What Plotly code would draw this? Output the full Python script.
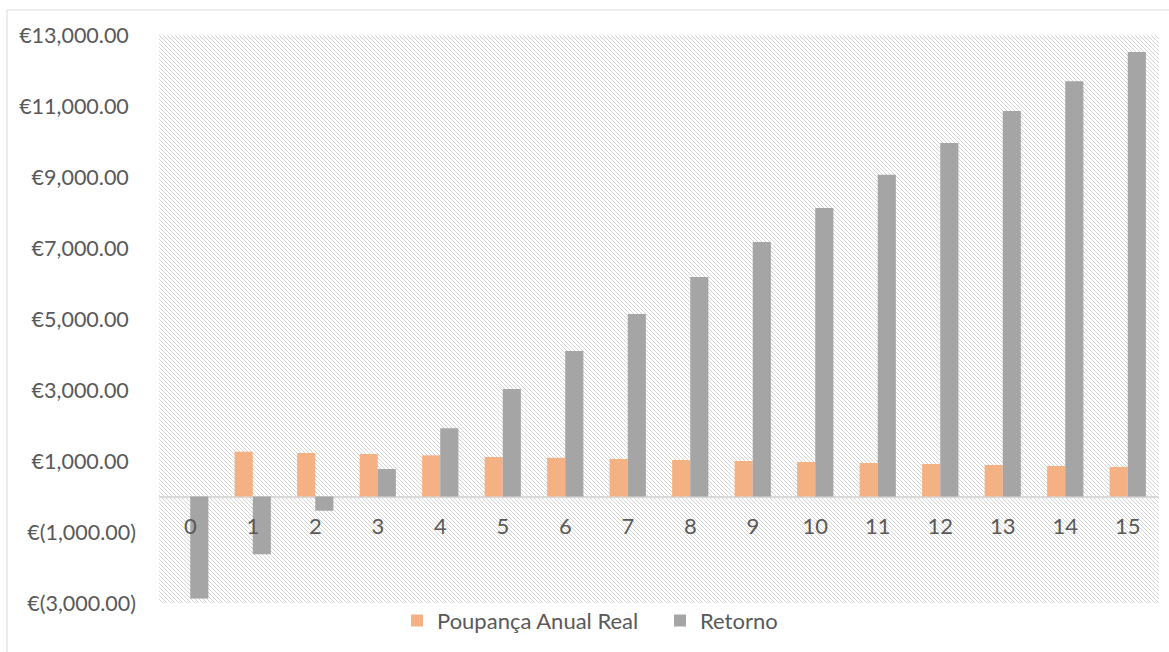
import base64
import plotly.graph_objects as go

# Years and the two series shown per year
anos = [str(i) for i in range(16)]
poupanca_anual_real = [0, 1262, 1225, 1197, 1160, 1113, 1090, 1056, 1028, 1000,
                       972, 944, 915, 887, 859, 831]
retorno = [-2870, -1630, -400, 775, 1920, 3030, 4100, 5140, 6180, 7170,
           8130, 9060, 9960, 10860, 11700, 12520]

y_ticks = [-3000, -1000, 1000, 3000, 5000, 7000, 9000, 11000, 13000]


def euro(v):
    # accounting style: negatives in brackets, positives padded by a bracket-wide space
    return f"€({abs(v):,.2f})" if v < 0 else f"€{v:,.2f}\u2004"


y_ticktext = [euro(v) for v in y_ticks]

FONT = "Lato, 'Open Sans', sans-serif"
TXT = "#595959"

fig = go.Figure()
fig.add_trace(go.Bar(x=anos, y=poupanca_anual_real, name="Poupança Anual Real",
                     marker=dict(color="#F4B183", line=dict(width=0))))
fig.add_trace(go.Bar(x=anos, y=retorno, name="Retorno",
                     marker=dict(color="#A5A5A5", line=dict(width=0))))

# diagonal hatch filling the plotting area
hatch_svg = (
    "<svg xmlns='http://www.w3.org/2000/svg' width='1000' height='568' viewBox='0 0 1000 568'>"
    "<defs><pattern id='h' patternUnits='userSpaceOnUse' width='4' height='4'>"
    "<path d='M-1,-1 L5,5 M-1,3 L1,5 M3,-1 L5,1' stroke='#d4d4d4' stroke-width='1'/>"
    "</pattern></defs><rect width='1000' height='568' fill='white'/>"
    "<rect width='1000' height='568' fill='url(#h)'/></svg>"
)
hatch_uri = "data:image/svg+xml;base64," + base64.b64encode(hatch_svg.encode()).decode()

zero_pos = 3000 / 16000

fig.update_layout(
    width=1169, height=652,
    margin=dict(l=159, r=10, t=35, b=49, autoexpand=False),
    paper_bgcolor="white", plot_bgcolor="rgba(0,0,0,0)",
    barmode="group", bargap=0.42, bargroupgap=0,
    font=dict(family=FONT, size=22, color=TXT),
    showlegend=True,
    legend=dict(orientation="h", x=0.238, xanchor="left", y=0.006, yanchor="top",
                bgcolor="rgba(0,0,0,0)",
                font=dict(family=FONT, size=22, color=TXT), itemwidth=30,
                entrywidth=218, traceorder="normal"),
    xaxis=dict(type="category", anchor="free", position=zero_pos,
               showline=False, showgrid=False, zeroline=False, ticks="",
               tickfont=dict(family=FONT, size=22, color=TXT),
               ticklabelstandoff=14),
    yaxis=dict(range=[-3000, 13000], tickvals=y_ticks, ticktext=y_ticktext,
               showgrid=False, zeroline=True, zerolinecolor="#d9d9d9",
               zerolinewidth=2, showline=False, ticks="",
               tickfont=dict(family=FONT, size=21.5, color=TXT),
               ticklabelstandoff=22),
    images=[dict(source=hatch_uri, xref="paper", yref="paper", x=0, y=1,
                 sizex=1, sizey=1, sizing="stretch", xanchor="left", yanchor="top",
                 layer="below")],
    shapes=[dict(type="rect", xref="paper", yref="paper",
                 x0=-0.152, x1=1.03, y0=-0.12, y1=1.044,
                 line=dict(color="#d9d9d9", width=1), fillcolor="rgba(0,0,0,0)",
                 layer="below")],
)

fig.write_html("out.html")
